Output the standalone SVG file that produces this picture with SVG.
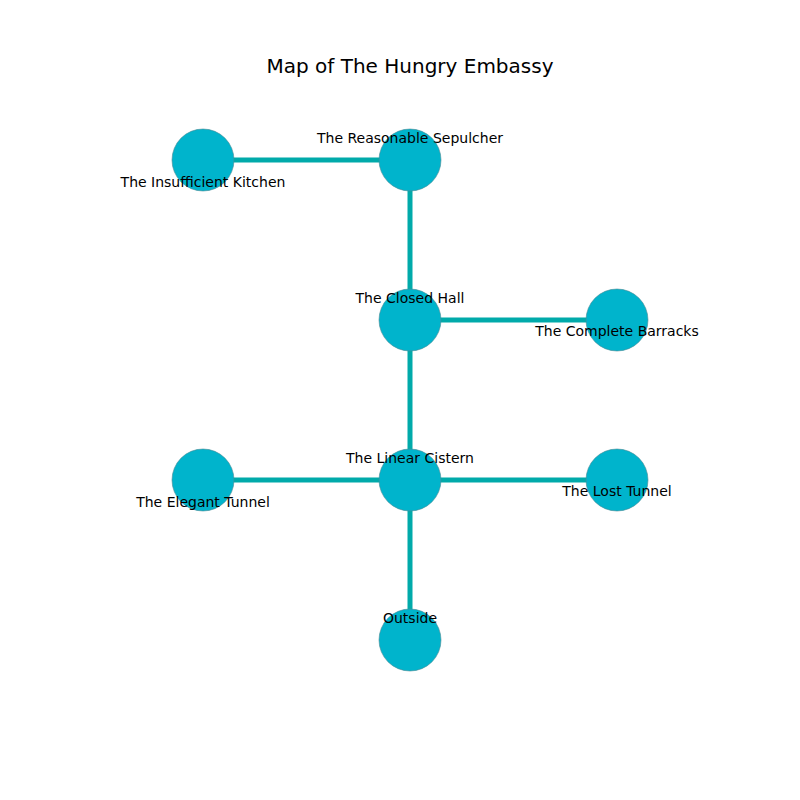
<svg xmlns="http://www.w3.org/2000/svg" width="800" height="800" viewBox="0 0 800 800">
<style>
.bg{fill:#ffffff}
.edge{stroke:#00aaaa;stroke-width:5;fill:none}
.node circle{fill:#00b4cc;stroke:#4a8a94;stroke-width:0.6}
text{font-family:"DejaVu Sans",sans-serif;font-size:14px;fill:#000;text-anchor:middle}
.title{font-size:20px}
</style>
<rect class="bg" x="0" y="0" width="800" height="800"/>
<text class="title" x="410" y="73">Map of The Hungry Embassy</text>
<g id="connectors">
<line class="edge" x1="203" y1="160" x2="410" y2="160"/>
<line class="edge" x1="410" y1="160" x2="410" y2="320"/>
<line class="edge" x1="410" y1="320" x2="617" y2="320"/>
<line class="edge" x1="410" y1="320" x2="410" y2="480"/>
<line class="edge" x1="203" y1="480" x2="617" y2="480"/>
<line class="edge" x1="410" y1="480" x2="410" y2="640"/>
</g>
<g id="n-kitchen" class="node"><circle cx="203" cy="160" r="31"/><text x="203" y="187">The Insufficient Kitchen</text></g>
<g id="n-sepulcher" class="node"><circle cx="410" cy="160" r="31"/><text x="410" y="143">The Reasonable Sepulcher</text></g>
<g id="n-hall" class="node"><circle cx="410" cy="320" r="31"/><text x="410" y="303">The Closed Hall</text></g>
<g id="n-barracks" class="node"><circle cx="617" cy="320" r="31"/><text x="617" y="336">The Complete Barracks</text></g>
<g id="n-cistern" class="node"><circle cx="410" cy="480" r="31"/><text x="410" y="463">The Linear Cistern</text></g>
<g id="n-elegant" class="node"><circle cx="203" cy="480" r="31"/><text x="203" y="507">The Elegant Tunnel</text></g>
<g id="n-lost" class="node"><circle cx="617" cy="480" r="31"/><text x="617" y="496">The Lost Tunnel</text></g>
<g id="n-outside" class="node"><circle cx="410" cy="640" r="31"/><text x="410" y="623">Outside</text></g>
</svg>
